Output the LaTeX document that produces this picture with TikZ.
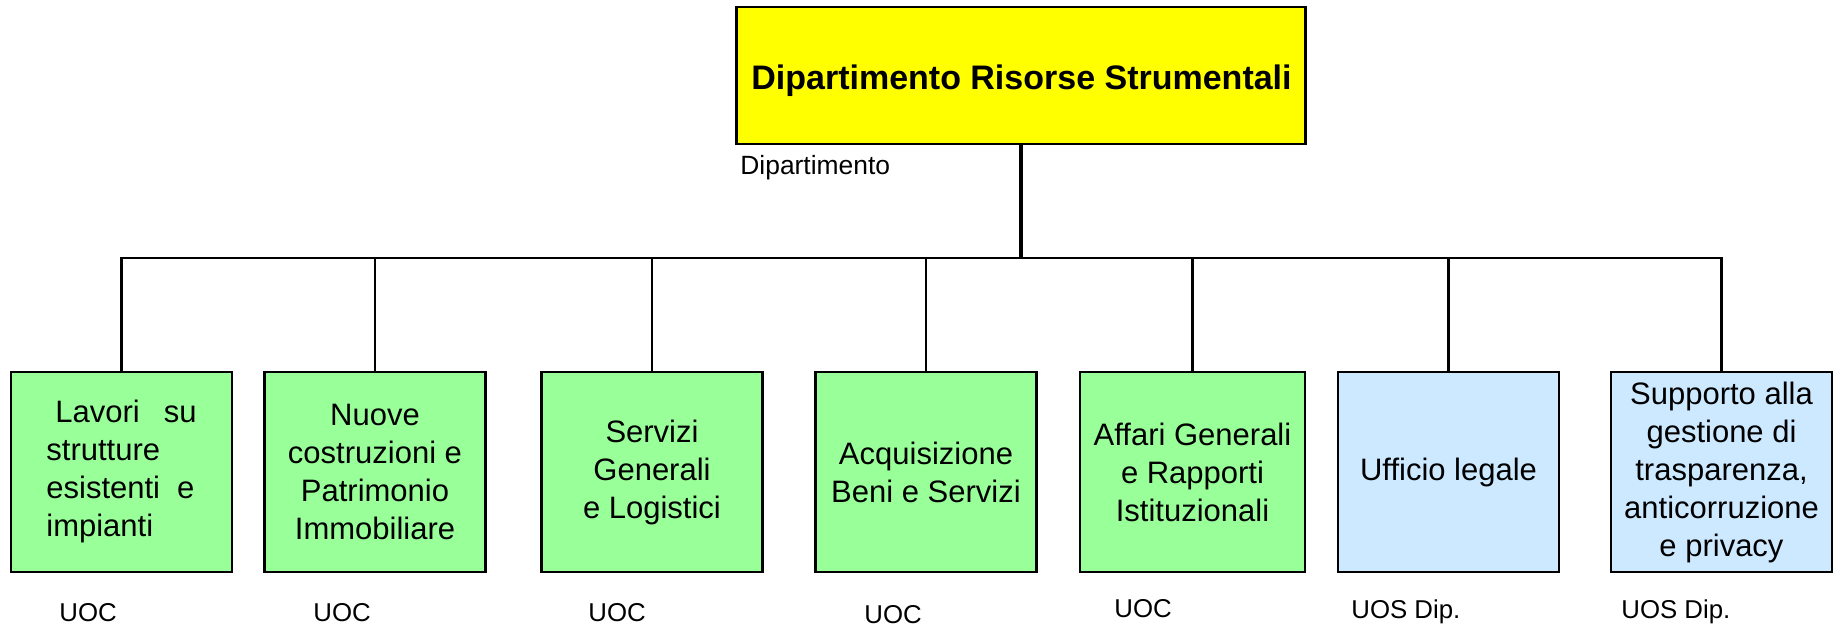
\documentclass[tikz,border=0pt]{standalone}
\usepackage{fontspec}
\setmainfont{Liberation Sans}
\definecolor{topyellow}{RGB}{255,255,0}
\definecolor{boxgreen}{RGB}{153,255,153}
\definecolor{boxblue}{RGB}{204,233,255}
\tikzset{
  unit/.style={draw=black, line width=1.3pt, minimum width=110.5pt, minimum height=100pt, inner sep=0pt, align=center, font=\fontsize{15.5}{19}\selectfont},
  uoc/.style={fill=boxgreen},
  uos/.style={fill=boxblue},
  lbl/.style={anchor=base west, inner sep=0pt, font=\fontsize{12.9}{15}\selectfont},
  link/.style={line width=1.2pt},
  trunk/.style={line width=1.6pt},
}
\begin{document}
\begin{tikzpicture}[x=0.5pt, y=-0.5pt]
\useasboundingbox (0,0) rectangle (1841,626);
% top
\node[draw=black, line width=1.3pt, fill=topyellow, minimum width=284.5pt, minimum height=68.5pt, inner sep=0pt] (top) at (1021,75.5) {};
\node[anchor=base, inner sep=0pt, font=\fontsize{17}{20}\selectfont\bfseries] (title) at (1021.5,90) {Dipartimento Risorse Strumentali};
\node[lbl, font=\fontsize{13.2}{15}\selectfont] (deplbl) at (740,175) {Dipartimento};
% units
\node[unit, uoc] (u1) at (121.5,472) {\begin{tabular}{@{}l@{}}\hspace*{4.5pt}Lavori\hspace{12pt}su\\strutture\\esistenti\hspace{8.5pt}e\\impianti\end{tabular}};
\node[unit, uoc] (u2) at (375,472) {Nuove\\costruzioni e\\Patrimonio\\Immobiliare};
\node[unit, uoc] (u3) at (652,472) {Servizi\\Generali\\e Logistici};
\node[unit, uoc] (u4) at (926,472) {Acquisizione\\Beni e Servizi};
\node[unit, uoc, minimum width=112.5pt] (u5) at (1192.5,472) {Affari Generali\\e Rapporti\\Istituzionali};
\node[unit, uos] (u6) at (1448.5,472) {Ufficio legale};
\node[unit, uos] (u7) at (1721.5,472) {Supporto alla\\gestione di\\trasparenza,\\anticorruzione\\e privacy};
% labels
\node[lbl] (l1) at (59,621) {UOC};
\node[lbl] (l2) at (313,621) {UOC};
\node[lbl] (l3) at (588,621) {UOC};
\node[lbl] (l4) at (864,623) {UOC};
\node[lbl] (l5) at (1114,617) {UOC};
\node[lbl] (l6) at (1351,618) {UOS Dip.};
\node[lbl] (l7) at (1621,618) {UOS Dip.};
% connectors
\coordinate (bus) at (1021,258);
\draw[trunk] (top.south) -- (top.south |- bus);
\foreach \n in {u1,u2,u3,u4,u5,u6,u7}
  \draw[link] (top.south |- bus) -| (\n.north);
\end{tikzpicture}
\end{document}
